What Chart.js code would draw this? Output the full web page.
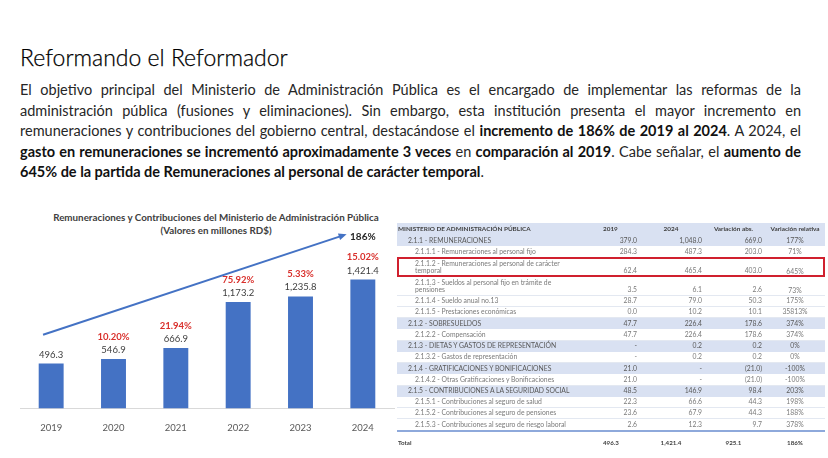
<!DOCTYPE html>
<html lang="es">
<head>
<meta charset="utf-8">
<script src="https://cdn.jsdelivr.net/npm/chart.js@4.4.1/dist/chart.umd.min.js"></script>
<style>
  html, body { margin: 0; padding: 0; background: #fff; }
  body { width: 828px; height: 458px; position: relative; overflow: hidden; font-family: Lato, "Open Sans", sans-serif; color: #262626; }
  #title { position: absolute; left: 20px; top: 43px; font-size: 23px; font-weight: 300; color: #000; white-space: nowrap; -webkit-text-stroke: 0.25px #000; }
  #para { position: absolute; left: 20px; top: 80px; width: 781px; font-size: 14.5px; line-height: 20.5px; color: #262626; }
  #para .ln { text-align: justify; text-align-last: justify; }
  #para .ln.last { text-align-last: left; }
  #para b { font-weight: 700; color: #111; }
  #chartHead { position: absolute; left: 16px; top: 211px; width: 400px; text-align: center; font-size: 9.8px; font-weight: 700; color: #404040; line-height: 13px; }
  #chartBox { position: absolute; left: 0; top: 205px; width: 400px; height: 250px; }
  #tbl { position: absolute; left: 397px; top: 223px; width: 428px; border-collapse: collapse; table-layout: fixed; font-size: 6.8px; color: #7a7a7a; }
  #tbl td { padding: 0 3px 0 0; white-space: nowrap; line-height: 7.5px; vertical-align: middle; text-align: right; }
  #tbl tr.hd td { height: 12px; background: #D9E1F2; color: #404040; font-weight: 700; font-size: 6.4px; text-align: center; }
  #tbl tr.cat td { height: 11.25px; background: #D9E1F2; color: #595959; }
  #tbl tr.det td { height: 10.25px; border-bottom: 1px solid #E3E8F1; }
  #tbl tr.two td { height: 17px; vertical-align: bottom; padding-bottom: 1px; }
  #tbl tr.endrow td { border-bottom: 2px solid #8EA9DB; }
  #tbl tr.gap td { height: 6px; border: none; }
  #tbl tr.tot td { height: 11px; font-weight: 700; color: #404040; font-size: 6.2px; text-align: center; }
  #tbl tr td.nm { text-align: left; }
  #tbl tr.cat td.nm { padding-left: 11px; }
  #tbl tr.det td.nm { padding-left: 18px; }
  #tbl tr.hd td.nm, #tbl tr.tot td.nm { padding-left: 1px; text-align: left; }
  #tbl td.y1 { padding-right: 3px; }
  #tbl tr.hd td.y1, #tbl tr.tot td.y1 { text-align: left; padding-left: 5px; }
  #tbl tr td.rel { text-align: center; padding: 0; }
  #redBox { position: absolute; left: 397px; top: 257px; width: 424px; height: 16px; border: 2px solid #D0202E; }
</style>
</head>
<body>
<div id="title">Reformando el Reformador</div>
<div id="para">
  <div class="ln">El objetivo principal del Ministerio de Administración Pública es el encargado de implementar las reformas de la</div>
  <div class="ln">administración pública (fusiones y eliminaciones). Sin embargo, esta institución presenta el mayor incremento en</div>
  <div class="ln">remuneraciones y contribuciones del gobierno central, destacándose el <b>incremento de 186% de 2019 al 2024</b>. A 2024, el</div>
  <div class="ln"><b>gasto en remuneraciones se incrementó aproximadamente 3 veces</b> en <b>comparación al 2019</b>. Cabe señalar, el <b>aumento de</b></div>
  <div class="ln last"><b>645% de la partida de Remuneraciones al personal de carácter temporal</b>.</div>
</div>

<div id="chartHead">Remuneraciones y Contribuciones del Ministerio de Administración Pública<br>(Valores en millones RD$)</div>
<div id="chartBox"><canvas id="chart"></canvas></div>

<table id="tbl">
  <colgroup><col style="width:201px"><col style="width:42px"><col style="width:65px"><col style="width:60px"><col style="width:60px"></colgroup>
  <tr class="hd"><td class="nm">MINISTERIO DE ADMINISTRACIÓN PÚBLICA</td><td class="y1">2019</td><td>2024</td><td>Variación abs.</td><td class="rel">Variación relativa</td></tr>
  <tr class="cat"><td class="nm">2.1.1 - REMUNERACIONES</td><td class="y1">379.0</td><td>1,048.0</td><td>669.0</td><td class="rel">177%</td></tr>
  <tr class="det"><td class="nm">2.1.1.1 - Remuneraciones al personal fijo</td><td class="y1">284.3</td><td>487.3</td><td>203.0</td><td class="rel">71%</td></tr>
  <tr class="det two"><td class="nm">2.1.1.2 - Remuneraciones al personal de carácter<br>temporal</td><td class="y1">62.4</td><td>465.4</td><td>403.0</td><td class="rel">645%</td></tr>
  <tr class="det two"><td class="nm">2.1.1.3 - Sueldos al personal fijo en trámite de<br>pensiones</td><td class="y1">3.5</td><td>6.1</td><td>2.6</td><td class="rel">73%</td></tr>
  <tr class="det"><td class="nm">2.1.1.4 - Sueldo anual no.13</td><td class="y1">28.7</td><td>79.0</td><td>50.3</td><td class="rel">175%</td></tr>
  <tr class="det"><td class="nm">2.1.1.5 - Prestaciones económicas</td><td class="y1">0.0</td><td>10.2</td><td>10.1</td><td class="rel">35813%</td></tr>
  <tr class="cat"><td class="nm">2.1.2 - SOBRESUELDOS</td><td class="y1">47.7</td><td>226.4</td><td>178.6</td><td class="rel">374%</td></tr>
  <tr class="det"><td class="nm">2.1.2.2 - Compensación</td><td class="y1">47.7</td><td>226.4</td><td>178.6</td><td class="rel">374%</td></tr>
  <tr class="cat"><td class="nm">2.1.3 - DIETAS Y GASTOS DE REPRESENTACIÓN</td><td class="y1">-</td><td>0.2</td><td>0.2</td><td class="rel">0%</td></tr>
  <tr class="det"><td class="nm">2.1.3.2 - Gastos de representación</td><td class="y1">-</td><td>0.2</td><td>0.2</td><td class="rel">0%</td></tr>
  <tr class="cat"><td class="nm">2.1.4 - GRATIFICACIONES Y BONIFICACIONES</td><td class="y1">21.0</td><td>-</td><td>(21.0)</td><td class="rel">-100%</td></tr>
  <tr class="det"><td class="nm">2.1.4.2 - Otras Gratificaciones y Bonificaciones</td><td class="y1">21.0</td><td>-</td><td>(21.0)</td><td class="rel">-100%</td></tr>
  <tr class="cat"><td class="nm">2.1.5 - CONTRIBUCIONES A LA SEGURIDAD SOCIAL</td><td class="y1">48.5</td><td>146.9</td><td>98.4</td><td class="rel">203%</td></tr>
  <tr class="det"><td class="nm">2.1.5.1 - Contribuciones al seguro de salud</td><td class="y1">22.3</td><td>66.6</td><td>44.3</td><td class="rel">198%</td></tr>
  <tr class="det"><td class="nm">2.1.5.2 - Contribuciones al seguro de pensiones</td><td class="y1">23.6</td><td>67.9</td><td>44.3</td><td class="rel">188%</td></tr>
  <tr class="det endrow"><td class="nm">2.1.5.3 - Contribuciones al seguro de riesgo laboral</td><td class="y1">2.6</td><td>12.3</td><td>9.7</td><td class="rel">378%</td></tr>
  <tr class="gap"><td colspan="5"></td></tr>
  <tr class="tot"><td class="nm">Total</td><td class="y1">496.3</td><td>1,421.4</td><td>925.1</td><td class="rel">186%</td></tr>
</table>
<div id="redBox"></div>

<script>
// valores en millones RD$
const years = ['2019', '2020', '2021', '2022', '2023', '2024'];
const spending = [496.3, 546.9, 666.9, 1173.2, 1235.8, 1421.4];
const growth = ['', '10.20%', '21.94%', '75.92%', '5.33%', '15.02%'];
const totalGrowth = '186%';
// tendencia: [posición de categoría, valor]
const trendStart = [-0.13, 814];
const trendEnd = [4.74, 1921];

const fmt = v => v.toLocaleString('en-US', { minimumFractionDigits: 1, maximumFractionDigits: 1 });

const labelsPlugin = {
  id: 'barLabels',
  afterDatasetsDraw(chart) {
    const ctx = chart.ctx;
    const xs = chart.scales.x, ys = chart.scales.y;
    const bars = chart.getDatasetMeta(0).data;
    ctx.save();
    ctx.textAlign = 'center';
    ctx.textBaseline = 'middle';
    bars.forEach((bar, i) => {
      ctx.font = '9.5px Lato';
      ctx.fillStyle = '#404040';
      ctx.fillText(fmt(spending[i]), bar.x, bar.y - 9);
      if (growth[i]) {
        ctx.font = 'bold 9.5px Lato';
        ctx.fillStyle = '#D9302C';
        ctx.fillText(growth[i], bar.x, bar.y - 22.5);
      }
    });

    // flecha de tendencia
    const x0 = xs.getPixelForValue(trendStart[0]), y0 = ys.getPixelForValue(trendStart[1]);
    const x1 = xs.getPixelForValue(trendEnd[0]), y1 = ys.getPixelForValue(trendEnd[1]);
    const ang = Math.atan2(y1 - y0, x1 - x0);
    ctx.strokeStyle = '#4472C4';
    ctx.fillStyle = '#4472C4';
    ctx.lineWidth = 2;
    ctx.beginPath();
    ctx.moveTo(x0, y0);
    ctx.lineTo(x1 - 6 * Math.cos(ang), y1 - 6 * Math.sin(ang));
    ctx.stroke();
    ctx.beginPath();
    ctx.moveTo(x1, y1);
    ctx.lineTo(x1 - 8 * Math.cos(ang) + 3.5 * Math.sin(ang), y1 - 8 * Math.sin(ang) - 3.5 * Math.cos(ang));
    ctx.lineTo(x1 - 8 * Math.cos(ang) - 3.5 * Math.sin(ang), y1 - 8 * Math.sin(ang) + 3.5 * Math.cos(ang));
    ctx.closePath();
    ctx.fill();

    ctx.font = 'bold 10px Lato';
    ctx.fillStyle = '#262626';
    ctx.fillText(totalGrowth, xs.getPixelForValue(years.length - 1), ys.getPixelForValue(1888));
    ctx.restore();
  }
};

new Chart(document.getElementById('chart'), {
  type: 'bar',
  data: {
    labels: years,
    datasets: [{
      data: spending,
      backgroundColor: '#4472C4',
      barPercentage: 0.4,
      categoryPercentage: 1
    }]
  },
  options: {
    responsive: true,
    maintainAspectRatio: false,
    animation: false,
    layout: { padding: { top: 42, bottom: 15, left: 20, right: 6 } },
    plugins: {
      legend: { display: false },
      tooltip: { enabled: false }
    },
    scales: {
      x: {
        grid: { display: false },
        border: { display: true, color: '#d9d9d9', width: 1 },
        ticks: { font: { family: 'Lato', size: 9.5 }, color: '#595959', padding: 6 }
      },
      y: { display: false, min: 0, max: 1780 }
    }
  },
  plugins: [labelsPlugin]
});
</script>
</body>
</html>
